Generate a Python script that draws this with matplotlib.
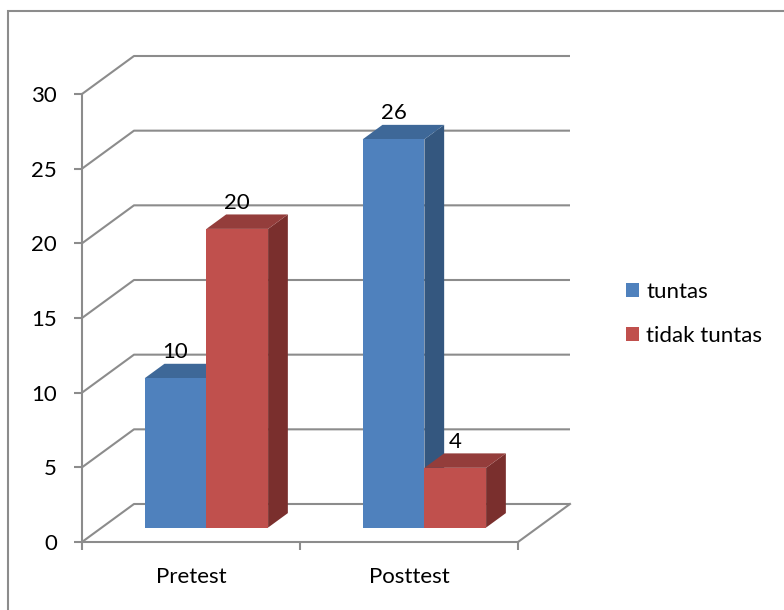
import matplotlib.pyplot as plt
from matplotlib.patches import Polygon, Patch, Rectangle

# data
categories = ['Pretest', 'Posttest']
series = ['tuntas', 'tidak tuntas']
tuntas = [10, 26]
tidak_tuntas = [20, 4]
yticks = [0, 5, 10, 15, 20, 25, 30]

# colours (front, top, side)
colors = {
    'tuntas': ('#4F81BD', '#3E6898', '#34577F'),
    'tidak tuntas': ('#C0504D', '#943D3B', '#7A2F2D'),
}
grid_color = '#8C8C8C'
fs = 16

plt.rcParams['font.family'] = ['Lato', 'DejaVu Sans']

fig = plt.figure(figsize=(7.84, 6.10), dpi=100)
ax = fig.add_axes([82/784, 68/610, 488/784, 486/610])

# fake 3d depth, in data units
Dx = 0.2385
Dy = 2.545
ax.set_xlim(0, 2 + Dx)
ax.set_ylim(0, 30 + Dy)

# back wall + left wall gridlines
for v in yticks:
    ax.plot([0, Dx, 2 + Dx], [v, v + Dy, v + Dy], color=grid_color, lw=1.5,
            zorder=1, clip_on=False, solid_capstyle='butt')
# floor right edge
ax.plot([2, 2 + Dx], [0, Dy], color=grid_color, lw=1.5, zorder=1, clip_on=False)

# bars
start = 0.197
width = 0.283
f0, f1 = 0.38, 0.76
values = [tuntas, tidak_tuntas]
for i, cat in enumerate(categories):
    for j, name in enumerate(series):
        v = values[j][i]
        front, top, side = colors[name]
        x0 = i + start + j * width + f0 * Dx
        x1 = x0 + width
        y0 = f0 * Dy
        y1 = v + f0 * Dy
        ddx = (f1 - f0) * Dx
        ddy = (f1 - f0) * Dy
        z = 3 + i * 2 + j
        ax.add_patch(Polygon([(x1, y0), (x1 + ddx, y0 + ddy), (x1 + ddx, y1 + ddy), (x1, y1)],
                             closed=True, facecolor=side, edgecolor='none', zorder=z, clip_on=False))
        ax.add_patch(Polygon([(x0, y1), (x1, y1), (x1 + ddx, y1 + ddy), (x0 + ddx, y1 + ddy)],
                             closed=True, facecolor=top, edgecolor='none', zorder=z, clip_on=False))
        ax.add_patch(Rectangle((x0, y0), width, v, facecolor=front, edgecolor='none',
                               zorder=z, clip_on=False))
        ax.text(x0 + width / 2, y1 + ddy + 0.1, str(v), ha='center', va='bottom',
                fontsize=fs, color='black', zorder=20)

# axes
for s in ['top', 'right']:
    ax.spines[s].set_visible(False)
ax.patch.set_visible(False)
ax.spines['left'].set_bounds(0, 30)
ax.spines['bottom'].set_bounds(0, 2)
for s in ['left', 'bottom']:
    ax.spines[s].set_color(grid_color)
    ax.spines[s].set_linewidth(1.5)
    ax.spines[s].set_zorder(2)

ax.set_yticks(yticks)
ax.set_yticklabels([str(t) for t in yticks])
ax.tick_params(axis='y', length=6, width=1.5, color=grid_color, labelsize=fs, pad=12)

ax.set_xticks([0, 1, 2])
ax.set_xticklabels(['', '', ''])
ax.set_xticks([0.5, 1.5], minor=True)
ax.set_xticklabels(categories, minor=True)
ax.tick_params(axis='x', which='major', length=6, width=1.5, color=grid_color)
ax.tick_params(axis='x', which='minor', length=0, labelsize=fs, pad=18)

# legend
handles = [Patch(facecolor=colors[n][0], edgecolor='none') for n in series]
fig.legend(handles, series, loc='center left', bbox_to_anchor=(615/784, 1 - 314/610),
           frameon=False, fontsize=fs, handlelength=0.6, handleheight=0.6,
           handletextpad=0.3, labelspacing=1.1, borderpad=0)

# chart border
fig.patches.append(Rectangle((8/784, -0.1), 1.1, 1 - 11/610 + 0.1, transform=fig.transFigure,
                             facecolor='none', edgecolor='#8C8C8C', lw=1.5))

plt.savefig('out.png', dpi=100)
